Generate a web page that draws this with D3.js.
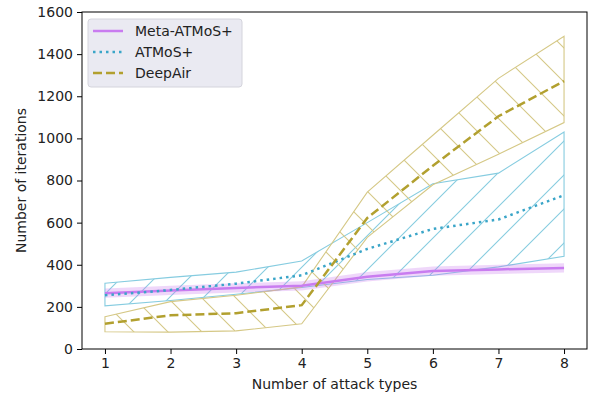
<!DOCTYPE html>
<html>
<head>
<meta charset="utf-8">
<script src="https://cdn.jsdelivr.net/npm/d3@7"></script>
<style>
  body { margin: 0; background: #fff; }
  svg { font-family: "DejaVu Sans", sans-serif; }
</style>
</head>
<body>
<div id="chart"></div>
<script>
// data
const attackTypes = [1, 2, 3, 4, 5, 6, 7, 8];
const metaMean = [265, 278, 290, 300, 343, 370, 378, 385];
const metaLow = [243, 256, 268, 278, 321, 348, 356, 363];
const metaHigh = [287, 300, 312, 322, 365, 392, 400, 407];
const atmosMean = [255, 280, 310, 350, 475, 570, 615, 730];
const atmosLow = [205, 230, 260, 292, 330, 350, 390, 440];
const atmosHigh = [312, 340, 365, 418, 600, 785, 835, 1030];
const deepMean = [120, 160, 170, 208, 622, 870, 1105, 1272];
const deepLow = [82, 80, 86, 120, 530, 780, 925, 1075];
const deepHigh = [153, 225, 255, 295, 745, 1015, 1285, 1485];
const yTicks = [0, 200, 400, 600, 800, 1000, 1200, 1400, 1600];
const legendNames = ['Meta-ATMoS+', 'ATMoS+', 'DeepAir'];

const width = 590, height = 394;
const margin = { top: 12, right: 3, bottom: 45, left: 82 };
const w = width - margin.left - margin.right;
const h = height - margin.top - margin.bottom;

const metaColor = '#c97cf0';
const atmosColor = '#3aa5c8';
const atmosHatch = '#86cce0';
const deepColor = '#b2a02f';
const deepHatch = '#d5c886';

const svg = d3.select('#chart').append('svg')
    .attr('width', width)
    .attr('height', height);

// hatch patterns
const defs = svg.append('defs');
defs.append('pattern')
    .attr('id', 'hatchFwd')
    .attr('patternUnits', 'userSpaceOnUse')
    .attr('width', 34).attr('height', 34)
    .attr('x', -1)
    .append('path')
    .attr('d', 'M-2,2 L2,-2 M0,34 L34,0 M32,36 L36,32')
    .attr('stroke', atmosHatch).attr('stroke-width', 1.1);
defs.append('pattern')
    .attr('id', 'hatchBack')
    .attr('patternUnits', 'userSpaceOnUse')
    .attr('width', 34).attr('height', 34)
    .attr('x', 4)
    .append('path')
    .attr('d', 'M-2,32 L2,36 M0,0 L34,34 M32,-2 L36,2')
    .attr('stroke', deepHatch).attr('stroke-width', 1.1);

const g = svg.append('g')
    .attr('transform', 'translate(' + margin.left + ',' + margin.top + ')');

const x = d3.scaleLinear().domain([0.65, 8.35]).range([0, w]);
const y = d3.scaleLinear().domain([0, 1600]).range([h, 0]);

const area = (lo, hi) => d3.area()
    .x((d, i) => x(attackTypes[i]))
    .y0((d, i) => y(lo[i]))
    .y1((d, i) => y(hi[i]));
const line = d3.line()
    .x((d, i) => x(attackTypes[i]))
    .y(d => y(d));

g.append('path').datum(attackTypes)
    .attr('d', area(atmosLow, atmosHigh))
    .attr('fill', 'url(#hatchFwd)')
    .attr('stroke', atmosHatch).attr('stroke-width', 1.1);
g.append('path').datum(attackTypes)
    .attr('d', area(deepLow, deepHigh))
    .attr('fill', 'url(#hatchBack)')
    .attr('stroke', deepHatch).attr('stroke-width', 1.1);
g.append('path').datum(attackTypes)
    .attr('d', area(metaLow, metaHigh))
    .attr('fill', metaColor).attr('fill-opacity', 0.3);

g.append('path').datum(metaMean)
    .attr('d', line)
    .attr('fill', 'none').attr('stroke', metaColor).attr('stroke-width', 2.5);
g.append('path').datum(atmosMean)
    .attr('d', line)
    .attr('fill', 'none').attr('stroke', atmosColor).attr('stroke-width', 2.5)
    .attr('stroke-dasharray', '2.5,4');
g.append('path').datum(deepMean)
    .attr('d', line)
    .attr('fill', 'none').attr('stroke', deepColor).attr('stroke-width', 2.5)
    .attr('stroke-dasharray', '9,4');

// axes
const xAxis = g.append('g')
    .attr('transform', 'translate(0,' + h + ')')
    .call(d3.axisBottom(x).tickValues(attackTypes).tickFormat(d3.format('d'))
        .tickSize(5).tickPadding(4).tickSizeOuter(0));
const yAxis = g.append('g')
    .call(d3.axisLeft(y).tickValues(yTicks).tickFormat(d3.format('d'))
        .tickSize(5).tickPadding(4).tickSizeOuter(0));
[xAxis, yAxis].forEach(a => {
    a.selectAll('text').attr('font-size', '14px').attr('fill', '#222')
        .attr('font-family', '"DejaVu Sans", sans-serif');
    a.select('.domain').remove();
});

g.append('rect')
    .attr('width', w).attr('height', h)
    .attr('fill', 'none').attr('stroke', '#000').attr('stroke-width', 1);

g.append('text')
    .attr('x', w / 2).attr('y', h + 40)
    .attr('text-anchor', 'middle')
    .attr('font-size', '14px').attr('fill', '#222')
    .text('Number of attack types');
g.append('text')
    .attr('transform', 'rotate(-90)')
    .attr('x', -h / 2).attr('y', -56)
    .attr('text-anchor', 'middle')
    .attr('font-size', '14px').attr('fill', '#222')
    .text('Number of iterations');

// legend
const legend = svg.append('g').attr('transform', 'translate(88,19)');
legend.append('rect')
    .attr('width', 154).attr('height', 68).attr('rx', 3)
    .attr('fill', '#eaeaf2').attr('stroke', '#d4d4dc');
const styles = [
    { color: metaColor, dash: null },
    { color: atmosColor, dash: '2.5,4' },
    { color: deepColor, dash: '9,4' }
];
legendNames.forEach((name, i) => {
    const row = legend.append('g').attr('transform', 'translate(0,' + (12 + i * 21) + ')');
    row.append('line')
        .attr('x1', 5).attr('x2', 35)
        .attr('stroke', styles[i].color).attr('stroke-width', 2.5)
        .attr('stroke-dasharray', styles[i].dash);
    row.append('text')
        .attr('x', 47).attr('dy', '0.35em')
        .attr('font-size', '14px').attr('fill', '#222')
        .text(name);
});
</script>
</body>
</html>
